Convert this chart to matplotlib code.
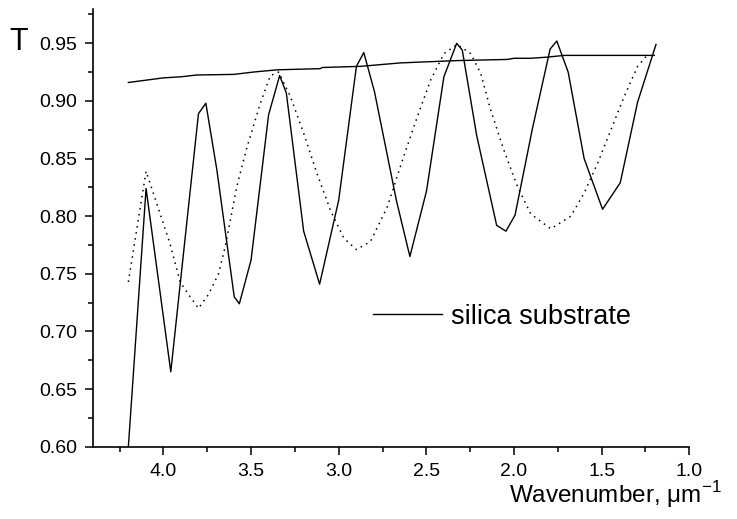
import numpy as np
import matplotlib.pyplot as plt
from matplotlib.ticker import MultipleLocator

plt.rcParams['font.family'] = ['Liberation Sans', 'DejaVu Sans']
plt.rcParams['mathtext.fontset'] = 'custom'
plt.rcParams['mathtext.rm'] = 'Liberation Sans'

# silica substrate transmission
sub_k = [4.20, 4.00, 3.895, 3.81, 3.60, 3.49, 3.35, 3.105, 3.095, 2.876, 2.647,
         2.324, 2.038, 2.00, 1.905, 1.81, 1.714, 1.20]
sub_T = [0.916, 0.920, 0.921, 0.9225, 0.923, 0.925, 0.927, 0.928, 0.929, 0.930,
         0.933, 0.935, 0.936, 0.937, 0.937, 0.938, 0.9395, 0.9395]

# measured film transmission (solid)
film_k = [4.20, 4.099, 3.958, 3.80, 3.758, 3.695, 3.596, 3.567, 3.50, 3.40, 3.337,
          3.299, 3.20, 3.109, 3.00, 2.899, 2.857, 2.796, 2.67, 2.594, 2.499, 2.40,
          2.327, 2.295, 2.213, 2.099, 2.046, 1.994, 1.895, 1.794, 1.756, 1.691,
          1.60, 1.495, 1.394, 1.295, 1.19]
film_T = [0.600, 0.824, 0.665, 0.889, 0.898, 0.840, 0.730, 0.724, 0.762, 0.888,
          0.922, 0.907, 0.787, 0.741, 0.814, 0.930, 0.942, 0.908, 0.813, 0.765,
          0.822, 0.921, 0.950, 0.944, 0.870, 0.792, 0.787, 0.801, 0.876, 0.945,
          0.952, 0.925, 0.850, 0.806, 0.829, 0.899, 0.949]

# calculated transmission (dotted)
calc_k = [4.20, 4.099, 3.962, 3.905, 3.847, 3.80, 3.743, 3.686, 3.647, 3.581,
          3.523, 3.447, 3.39, 3.343, 3.276, 3.20, 3.124, 3.047, 2.971, 2.899,
          2.819, 2.723, 2.629, 2.552, 2.476, 2.40, 2.324, 2.247, 2.19, 2.133,
          2.057, 1.981, 1.905, 1.79, 1.676, 1.60, 1.523, 1.447, 1.371, 1.295, 1.238]
calc_T = [0.743, 0.839, 0.776, 0.743, 0.730, 0.720, 0.732, 0.750, 0.774, 0.826,
          0.860, 0.898, 0.922, 0.925, 0.904, 0.872, 0.837, 0.805, 0.781, 0.771,
          0.778, 0.808, 0.852, 0.886, 0.918, 0.941, 0.949, 0.941, 0.924, 0.892,
          0.857, 0.826, 0.802, 0.789, 0.800, 0.820, 0.846, 0.875, 0.904, 0.930, 0.940]

fig = plt.figure(figsize=(7.37, 5.19), dpi=100)
ax = fig.add_axes([0.1266, 0.1393, 0.8087, 0.8439])

ax.plot(sub_k, sub_T, 'k-', lw=1.0, label='silica substrate')
ax.plot(film_k, film_T, 'k-', lw=1.0)
ax.plot(calc_k, calc_T, color='k', lw=1.1, linestyle=(0, (1, 3)))

ax.set_xlim(4.4, 1.0)
ax.set_ylim(0.60, 0.98)
ax.xaxis.set_major_locator(MultipleLocator(0.5))
ax.xaxis.set_minor_locator(MultipleLocator(0.25))
ax.yaxis.set_major_locator(MultipleLocator(0.05))
ax.yaxis.set_minor_locator(MultipleLocator(0.025))
ax.xaxis.set_major_formatter(lambda v, p: f'{v:.1f}')
ax.yaxis.set_major_formatter(lambda v, p: f'{v:.2f}')

for s in ('top', 'right'):
    ax.spines[s].set_visible(False)
for s in ('left', 'bottom'):
    ax.spines[s].set_linewidth(1.2)
ax.tick_params(which='major', direction='out', length=6, width=1.1,
               labelsize=14, pad=5.5)
ax.tick_params(which='minor', direction='out', length=3.5, width=1.1)

ax.set_xlabel('Wavenumber, μm$^{-1}$', fontsize=17.5, ha='right')
ax.xaxis.set_label_coords(1.055, -0.075)
fig.text(9 / 737, 1 - 49.5 / 519, 'T', fontsize=22, va='baseline', ha='left')

ax.legend(loc='center left', bbox_to_anchor=(0.469, 0.297), frameon=False,
          fontsize=19.5, handlelength=2.55, handletextpad=0.33,
          borderpad=0, borderaxespad=0)

fig.savefig('out.png', dpi=100)
